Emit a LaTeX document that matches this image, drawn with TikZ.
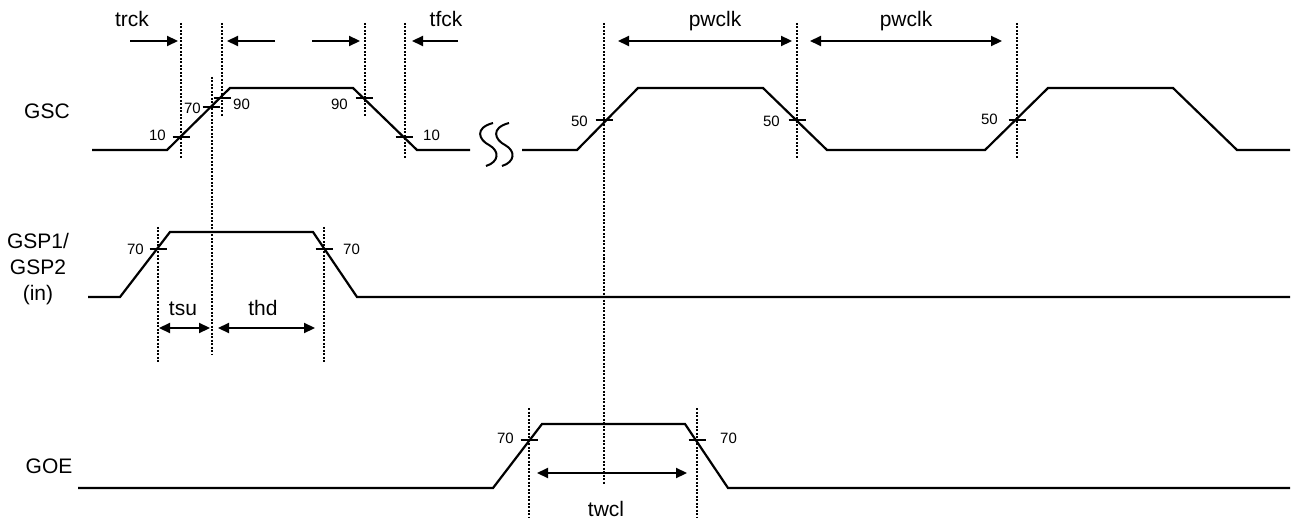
\documentclass[tikz,border=0pt]{standalone}
\usepackage{fontspec}
\setmainfont{Liberation Sans}
\usetikzlibrary{arrows.meta}
\begin{document}
\begin{tikzpicture}[x=1pt,y=-1pt,
  wave/.style={line width=2.2pt},
  guide/.style={line width=2pt,dash pattern=on 2pt off 1.5pt},
  tickmark/.style={line width=2.2pt},
  dimarrow/.style={line width=2.2pt,-{Triangle[length=11pt,width=10pt]}},
  dimboth/.style={line width=2.2pt,{Triangle[length=11pt,width=10pt]}-{Triangle[length=11pt,width=10pt]}},
  sig/.style={font=\fontsize{21}{26}\selectfont,align=center},
  lbl/.style={font=\fontsize{21}{24}\selectfont,anchor=base},
  pct/.style={font=\fontsize{15}{17}\selectfont,inner sep=0pt}]
\useasboundingbox (0,0) rectangle (1292,521);

% signal names
\node[sig,anchor=base] (gsc) at (47,119) {GSC};
\node[sig] (gsp) at (38,269) {GSP1/\\GSP2\\(in)};
\node[sig,anchor=base] (goe) at (49,473) {GOE};

% GSC waveform
\draw[wave] (92,150) -- (167,150) -- (230,88) -- (353,88) -- (417,150) -- (470,150);
\draw[wave] (522,150) -- (577,150) -- (638,88) -- (763,88) -- (827,150)
  -- (985,150) -- (1048,88) -- (1173,88) -- (1237,150) -- (1290,150);
% break
\draw[line width=2pt] (493,123) .. controls (474,128) and (479,140) .. (489,145)
  .. controls (500,151) and (499,162) .. (486,166);
\draw[line width=2pt] (509,123) .. controls (490,128) and (495,140) .. (505,145)
  .. controls (516,151) and (515,162) .. (502,166);

% GSP1/GSP2 waveform
\draw[wave] (88,297) -- (120,297) -- (170,232) -- (313,232) -- (357,297) -- (1290,297);

% GOE waveform
\draw[wave] (78,488) -- (493,488) -- (542,424) -- (685,424) -- (728,488) -- (1290,488);

% dotted guides
\draw[guide] (181,23) -- (181,158);
\draw[guide] (222,23) -- (222,117);
\draw[guide] (365,23) -- (365,117);
\draw[guide] (405,23) -- (405,158);
\draw[guide] (212,77) -- (212,355);
\draw[guide] (604,23) -- (604,484);
\draw[guide] (797,23) -- (797,158);
\draw[guide] (1017,23) -- (1017,158);
\draw[guide] (158,227) -- (158,362);
\draw[guide] (324,227) -- (324,362);
\draw[guide] (529,408) -- (529,517);
\draw[guide] (697,408) -- (697,517);

% level marks
\foreach \x/\y in {181/137, 211/107, 222/98, 364/98, 404/137,
                   604/120, 797/120, 1017/120,
                   158/249, 324/249, 529/440, 697/440}
  \draw[tickmark] (\x-8.5,\y) -- (\x+8.5,\y);

\node[pct,anchor=east] (r10) at (166,135) {10};
\node[pct,anchor=east] (r70) at (201,108) {70};
\node[pct,anchor=west] (r90) at (233,104) {90};
\node[pct,anchor=east] (f90) at (348,104) {90};
\node[pct,anchor=west] (f10) at (423,135) {10};
\node[pct,anchor=east] (a50) at (588,121) {50};
\node[pct,anchor=east] (b50) at (780,121) {50};
\node[pct,anchor=east] (c50) at (998,119) {50};
\node[pct,anchor=east] (s70) at (144,249) {70};
\node[pct,anchor=west] (h70) at (343,249) {70};
\node[pct,anchor=east] (g70) at (514,438) {70};
\node[pct,anchor=west] (e70) at (720,438) {70};

% timing arrows
\draw[dimarrow] (130,41) -- (178,41);
\draw[dimarrow] (275,41) -- (227,41);
\draw[dimarrow] (312,41) -- (360,41);
\draw[dimarrow] (458,41) -- (412,41);
\draw[dimboth] (618,41) -- (792,41);
\draw[dimboth] (810,41) -- (1002,41);
\draw[dimboth] (159,328) -- (210,328);
\draw[dimboth] (218,328) -- (315,328);
\draw[dimboth] (537,473) -- (687,473);

\node[lbl] (trck) at (132,27) {trck};
\node[lbl] (tfck) at (446,27) {tfck};
\node[lbl] (pw1) at (715,27) {pwclk};
\node[lbl] (pw2) at (906,27) {pwclk};
\node[lbl] (tsu) at (183,315) {tsu};
\node[lbl] (thd) at (263,315) {thd};
\node[lbl] (twcl) at (606,516) {twcl};
\end{tikzpicture}
\end{document}
